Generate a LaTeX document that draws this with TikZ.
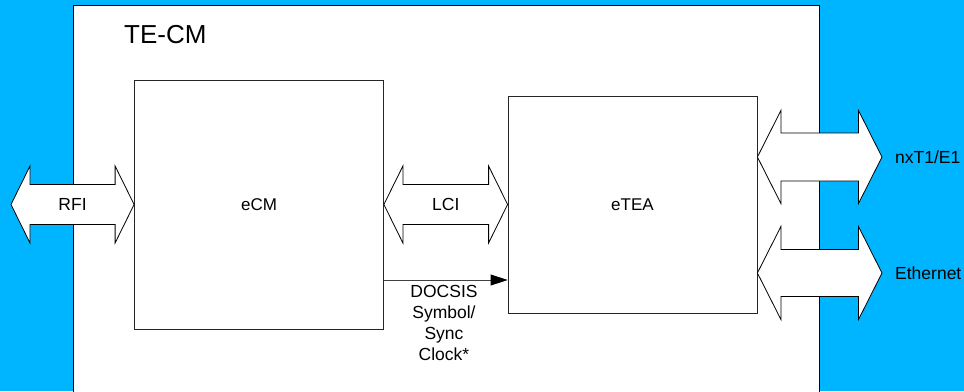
\documentclass[tikz,border=0pt]{standalone}
\usepackage{fontspec}
\setmainfont{Liberation Sans}
\usetikzlibrary{calc,positioning,arrows.meta}
\definecolor{bgblue}{RGB}{0,181,255}
\tikzset{
    % boxes
    blockbox/.style={
        draw=black!85,
        line width=0.8pt,
        fill=white,
        inner sep=0pt,
        font=\fontsize{17}{20}\selectfont
    },
    % hollow two-headed arrows
    bidir/.style={
        draw=black,
        line width=0.8pt,
        fill=white,
        line join=miter
    },
    clockarrow/.style={
        draw=black!75,
        line width=0.8pt,
        -{Triangle[length=17pt, width=11pt, black]}
    },
    lbl/.style={inner sep=0pt, font=\fontsize{17.5}{21}\selectfont}
}
% left tip, right tip, head length, half head width, half shaft width
\newcommand{\bidirarrow}[5]{%
    \draw[bidir] (#1) -- ++(#3,-#4) -- ++(0,#4-#5) -- ($(#2)+(-#3,-#5)$)
        -- ++(0,#5-#4) -- (#2) -- ++(-#3,#4) -- ++(0,#5-#4)
        -- ($(#1)+(#3,#5)$) -- ++(0,#4-#5) -- cycle;}

\begin{document}
\begin{tikzpicture}[x=1pt, y=-1pt]
    \useasboundingbox (0,0) rectangle (964,391);
    \clip (0,0) rectangle (964,391);
    \fill[bgblue] (0,0) rectangle (964,391);

    % TE-CM
    \draw[line width=1pt, fill=white] (73,5) rectangle (819,400);
    \node[anchor=west, inner sep=0pt, font=\fontsize{26}{30}\selectfont] (tecm) at (124,35) {TE-CM};

    \node[blockbox, minimum width=249pt, minimum height=249pt] (ecm) at (259,204.5) {eCM};
    \node[blockbox, minimum width=249pt, minimum height=217pt] (etea) at (632.5,204.5) {eTEA};

    \coordinate (rfiL) at (11,204.5);
    \coordinate (tdmL) at (etea.east |- 0,157);
    \coordinate (tdmR) at (882,157);
    \coordinate (ethL) at (etea.east |- 0,273);
    \coordinate (ethR) at (882,273);

    \bidirarrow{rfiL}{ecm.west}{19}{38.5}{20}
    \bidirarrow{ecm.east}{etea.west}{19}{38.5}{20}
    \bidirarrow{tdmL}{tdmR}{23.5}{46.5}{24}
    \bidirarrow{ethL}{ethR}{23.5}{46.5}{23.5}

    %label
    \node[lbl] (rfi) at ($(rfiL)!0.5!(ecm.west)$) {RFI};
    \node[lbl] (lci) at ($(ecm.east)!0.5!(etea.west)$) {LCI};
    \node[lbl, anchor=west] (tdm) at (895,157) {nxT1/E1};
    \node[lbl, anchor=west] (eth) at (895,273) {Ethernet};

    \draw[clockarrow] (ecm.east |- 0,280) -- (etea.west |- 0,280);
    \node[lbl, align=center, anchor=north] (clk) at (444,285) {DOCSIS\\Symbol/\\Sync\\Clock*};
\end{tikzpicture}
\end{document}
